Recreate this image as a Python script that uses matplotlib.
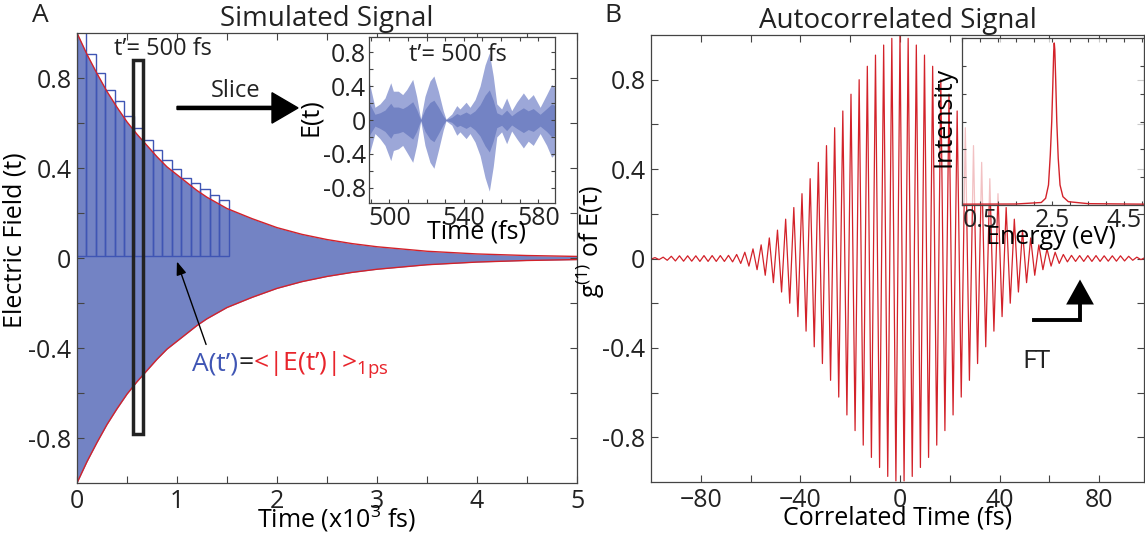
import numpy as np
import matplotlib
matplotlib.use('Agg')
import matplotlib.pyplot as plt
from matplotlib.offsetbox import TextArea, HPacker, AnnotationBbox

plt.rcParams['font.family'] = ['Open Sans', 'DejaVu Sans']
plt.rcParams['mathtext.fontset'] = 'custom'
plt.rcParams['mathtext.rm'] = 'Open Sans'
plt.rcParams['mathtext.it'] = 'Open Sans:italic'
plt.rcParams['axes.edgecolor'] = '#444444'
plt.rcParams['text.color'] = '#222222'

FILL = '#7383c4'
FILL_LIGHT = '#9ca7d8'
BOX = '#3f55b4'
RED = '#d3222a'
TICK_FS = 18
LABEL_FS = 18

# --- panel A: decaying field envelope, time in 10^3 fs
env_t = [0.0, 0.1, 0.2, 0.3, 0.4, 0.5, 0.6, 0.7, 0.8, 0.9, 1.0, 1.1, 1.2, 1.3,
         1.4, 1.5, 1.75, 2.0, 2.25, 2.5, 2.75, 3.0, 3.5, 4.0, 4.5, 5.0]
env_val = [1.00, 0.905, 0.82, 0.74, 0.67, 0.605, 0.55, 0.50, 0.45, 0.405,
           0.37, 0.335, 0.30, 0.27, 0.245, 0.22, 0.175, 0.135, 0.105, 0.082,
           0.064, 0.05, 0.03, 0.018, 0.011, 0.007]

# 1 ps running average A(t'), one box per slice
box_heights = [1.0, 0.895, 0.813, 0.738, 0.686, 0.62, 0.57, 0.513, 0.47,
               0.424, 0.385, 0.347, 0.324, 0.295, 0.27, 0.246]
box_width = 0.0948
slice_t = (0.56, 0.66)      # highlighted slice
slice_y = (-0.78, 0.88)

# inset A: field around t' = 500 fs (upper / lower envelope of the fast carrier)
ins_t = [489.2, 492.2, 494.9, 497.6, 500.7, 502.1, 504.8, 507.1, 509.3, 512.5,
         514.6, 516.8, 519.1, 521.8, 523.9, 526.3, 528.9, 530.4, 533.5, 536.2,
         537.9, 541.2, 543.3, 546.0, 548.7, 551.4, 553.7, 555.8, 557.7, 560.3,
         563.0, 565.7, 568.4, 572.0, 574.6, 577.3, 581.0, 584.5, 587.2, 589.0]
ins_hi = [0.44, 0.15, 0.19, 0.26, 0.44, 0.34, 0.34, 0.30, 0.36, 0.48,
          0.28, 0.01, 0.28, 0.46, 0.52, 0.34, 0.11, 0.01, 0.07, 0.17,
          0.13, 0.21, 0.15, 0.24, 0.40, 0.65, 0.79, 0.52, 0.19, 0.13,
          0.26, 0.11, 0.21, 0.32, 0.24, 0.30, 0.15, 0.30, 0.42, 0.38]
ins_lo = [-0.40, -0.16, -0.22, -0.30, -0.48, -0.36, -0.34, -0.30, -0.38, -0.50,
          -0.30, -0.01, -0.30, -0.50, -0.57, -0.36, -0.12, -0.01, -0.06, -0.18,
          -0.14, -0.22, -0.16, -0.26, -0.42, -0.68, -0.84, -0.55, -0.20, -0.14,
          -0.28, -0.13, -0.22, -0.33, -0.25, -0.30, -0.16, -0.30, -0.44, -0.40]

# --- panel B: g1 extrema amplitudes from tau = 0 outwards (symmetric in tau)
half_period = 1.64   # fs between successive extrema
g1_amp = [1.00, 0.995, 0.985, 0.975, 0.955, 0.935, 0.91, 0.89, 0.86, 0.835,
          0.80, 0.77, 0.735, 0.70, 0.66, 0.62, 0.585, 0.545, 0.505, 0.47,
          0.43, 0.395, 0.357, 0.325, 0.29, 0.26, 0.228, 0.20, 0.176, 0.15,
          0.127, 0.108, 0.092, 0.075, 0.061, 0.05, 0.043, 0.034, 0.028, 0.022,
          0.018, 0.015, 0.014, 0.013, 0.013, 0.013, 0.013, 0.013, 0.013, 0.013,
          0.012, 0.012, 0.012, 0.012, 0.012, 0.011, 0.010, 0.008, 0.006, 0.005,
          0.004, 0.003]

# inset B: spectrum
energy = [0.0, 1.5, 2.2, 2.32, 2.40, 2.45, 2.49, 2.52, 2.545, 2.56, 2.575,
          2.60, 2.63, 2.67, 2.72, 2.8, 2.95, 3.5, 5.05]
intensity = [0.005, 0.006, 0.015, 0.04, 0.12, 0.3, 0.5, 0.72, 0.92, 0.97, 0.93,
             0.75, 0.5, 0.28, 0.12, 0.05, 0.02, 0.008, 0.005]


def style(ax, size=TICK_FS):
    ax.tick_params(which='both', direction='in', top=True, right=True,
                   length=5, width=0.8, labelsize=size, pad=4, colors='#444444',
                   labelcolor='#222222')
    for s in ax.spines.values():
        s.set_linewidth(0.9)


W, H = 1145, 533
fig = plt.figure(figsize=(W / 100, H / 100), dpi=100)


def px_axes(x0, y0, x1, y1):
    return fig.add_axes([x0 / W, 1 - y1 / H, (x1 - x0) / W, (y1 - y0) / H])


ax_a = px_axes(77, 33, 577, 483)
ax_b = px_axes(651, 35, 1144, 482)
ax_ia = px_axes(369, 37, 555, 203)
ax_ib = px_axes(962, 38, 1144, 205)

# ---------------- panel A
env = np.array(env_val)
ax_a.fill_between(env_t, -env, env, color=FILL, lw=0)
ax_a.plot(env_t, env, color=RED, lw=1.0)
ax_a.plot(env_t, -env, color=RED, lw=1.0)
box_left = np.arange(len(box_heights)) * box_width
ax_a.bar(box_left, box_heights, width=box_width, bottom=0.01, align='edge',
         fill=False, edgecolor=BOX, linewidth=1.0)
ax_a.add_patch(plt.Rectangle((slice_t[0], slice_y[0]), slice_t[1] - slice_t[0],
                             slice_y[1] - slice_y[0], fill=False,
                             edgecolor='#222222', lw=2.5, zorder=5))
ax_a.set_xlim(0, 5)
ax_a.set_ylim(-1, 1)
ax_a.set_xticks(np.arange(0, 5.01, 1))
ax_a.set_xticks(np.arange(0.5, 5, 1), minor=True)
ax_a.set_yticks([-0.8, -0.4, 0, 0.4, 0.8])
ax_a.set_yticklabels(['-0.8', '-0.4', '0', '0.4', '0.8'])
ax_a.set_yticks([-0.6, -0.2, 0.2, 0.6], minor=True)
style(ax_a)
ax_a.set_title('Simulated Signal', fontsize=20, pad=1)
ax_a.set_xlabel('Time (x10$^3$ fs)', fontsize=LABEL_FS)
ax_a.xaxis.set_label_coords(0.52, -0.045)
ax_a.set_ylabel('Electric Field (t)', fontsize=LABEL_FS)
ax_a.yaxis.set_label_coords(-0.098, 0.54)

ax_a.text(0.86, 0.93, 't’= 500 fs', fontsize=17, ha='center', va='center')
ax_a.text(1.59, 0.742, 'Slice', fontsize=17, ha='center', va='center')
ax_a.arrow(1.0, 0.667, 1.21, 0, width=0.014, head_width=0.135,
           head_length=0.26, length_includes_head=True, color='black', zorder=6)
ax_a.annotate('', xy=(0.99, -0.004), xytext=(1.30, -0.396),
              arrowprops=dict(arrowstyle='-|>,head_length=0.8,head_width=0.3',
                              color='black', lw=1.0))

parts = [TextArea('A(t’)', textprops=dict(color=BOX, fontsize=19)),
         TextArea('=', textprops=dict(color='#222222', fontsize=19)),
         TextArea('<|E(t’)|>$_{\\mathrm{1ps}}$',
                  textprops=dict(color='#e8242b', fontsize=19))]
pack = HPacker(children=parts, align='baseline', pad=0, sep=0)
ax_a.add_artist(AnnotationBbox(pack, (1.15, -0.475), xycoords='data',
                               box_alignment=(0, 0.5), frameon=False))

# ---------------- inset A
hi = np.array(ins_hi)
lo = np.array(ins_lo)
ax_ia.fill_between(ins_t, lo, hi, color=FILL_LIGHT, lw=0)
ax_ia.fill_between(ins_t, lo * 0.45, hi * 0.45, color=FILL, lw=0)
ax_ia.set_xlim(489, 589)
ax_ia.set_ylim(-0.98, 0.98)
ax_ia.set_xticks([500, 540, 580])
ax_ia.set_xticks(np.arange(490, 589, 10), minor=True)
ax_ia.set_yticks([-0.8, -0.4, 0, 0.4, 0.8])
ax_ia.set_yticklabels(['-0.8', '-0.4', '0', '0.4', '0.8'])
ax_ia.set_yticks([-0.6, -0.2, 0.2, 0.6], minor=True)
style(ax_ia)
ax_ia.tick_params(which='both', length=3, pad=2)
ax_ia.set_xlabel('Time (fs)', fontsize=LABEL_FS)
ax_ia.xaxis.set_label_coords(0.58, -0.1)
ax_ia.set_ylabel('E(t)', fontsize=LABEL_FS)
ax_ia.yaxis.set_label_coords(-0.25, 0.52)
ax_ia.text(0.48, 0.89, 't’= 500 fs', fontsize=17, ha='center', va='center',
           transform=ax_ia.transAxes)

# ---------------- panel B
n = len(g1_amp)
k = np.arange(-(n - 1), n)
amp = np.array(g1_amp)[np.abs(k)]
g1 = np.where(k % 2 == 0, amp, -amp)
ax_b.plot(k * half_period, g1, color=RED, lw=0.9)
ax_b.set_xlim(-100, 98)
ax_b.set_ylim(-1, 1)
ax_b.set_xticks([-80, -40, 0, 40, 80])
ax_b.set_xticks([-60, -20, 20, 60], minor=True)
ax_b.set_yticks([-0.8, -0.4, 0, 0.4, 0.8])
ax_b.set_yticklabels(['-0.8', '-0.4', '0', '0.4', '0.8'])
ax_b.set_yticks([-0.6, -0.2, 0.2, 0.6], minor=True)
style(ax_b)
ax_b.set_title('Autocorrelated Signal', fontsize=20, pad=1)
ax_b.set_xlabel('Correlated Time (fs)', fontsize=LABEL_FS)
ax_b.xaxis.set_label_coords(0.5, -0.052)
ax_b.set_ylabel('g$^{(1)}$ of E(τ)', fontsize=LABEL_FS)
ax_b.yaxis.set_label_coords(-0.09, 0.537)

ax_b.text(55, -0.463, 'FT', fontsize=19, ha='center', va='center')
ax_b.plot([53.8, 72.3, 72.3], [-0.277, -0.277, -0.17], color='black', lw=2.8,
          solid_joinstyle='miter')
ax_b.annotate('', xy=(72.3, -0.094), xytext=(72.3, -0.17),
              arrowprops=dict(arrowstyle='-|>,head_length=0.9,head_width=0.5',
                              color='black', lw=0, mutation_scale=20,
                              shrinkA=0, shrinkB=0))

# ---------------- inset B
ax_ib.set_facecolor((1, 1, 1, 0.72))
ax_ib.plot(energy, intensity, color=RED, lw=1.0)
ax_ib.set_xlim(0, 5.05)
ax_ib.set_ylim(0, 1)
ax_ib.set_xticks([0.5, 2.5, 4.5])
ax_ib.set_xticks(np.arange(0, 5.01, 0.5), minor=True)
ax_ib.set_yticks(np.linspace(0, 1, 7))
ax_ib.set_yticklabels([])
style(ax_ib)
ax_ib.tick_params(which='both', length=3, pad=2)
ax_ib.set_xlabel('Energy (eV)', fontsize=LABEL_FS)
ax_ib.xaxis.set_label_coords(0.49, -0.12)
ax_ib.set_ylabel('Intensity', fontsize=LABEL_FS)
ax_ib.yaxis.set_label_coords(-0.03, 0.53)

fig.text(40 / W, 1 - 15 / H, 'A', fontsize=19, ha='center', va='center')
fig.text(613 / W, 1 - 15 / H, 'B', fontsize=19, ha='center', va='center')

fig.savefig('out.png', dpi=100)
